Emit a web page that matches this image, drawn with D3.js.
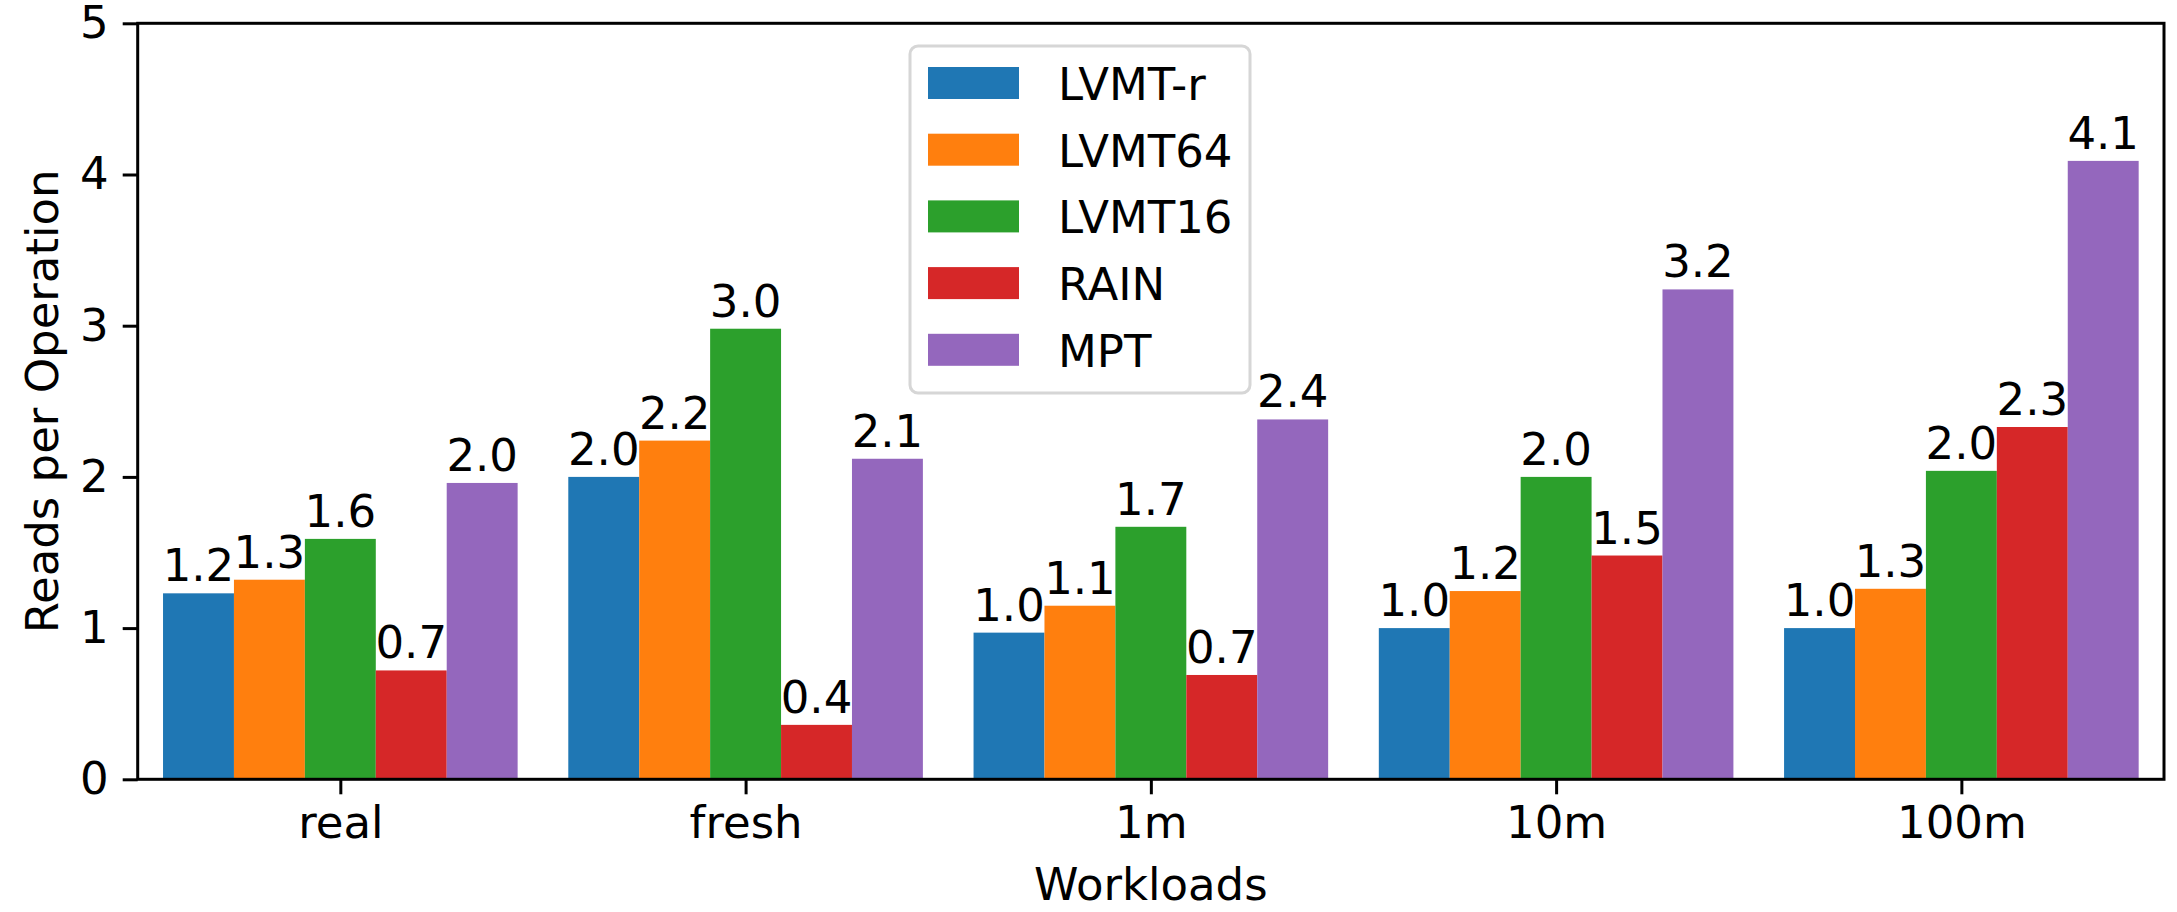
<!DOCTYPE html>
<html>
<head>
<meta charset="utf-8">
<script src="https://cdn.jsdelivr.net/npm/d3@7"></script>
<style>
  html, body { margin: 0; padding: 0; background: #fff; }
  svg { display: block; font-family: "DejaVu Sans", sans-serif; }
</style>
</head>
<body>
<svg width="2177" height="912"></svg>
<script>
// workloads on the x axis
var workloads = ["real", "fresh", "1m", "10m", "100m"];

// one array per series
var seriesNames = ["LVMT-r", "LVMT64", "LVMT16", "RAIN", "MPT"];
var lvmtR  = [1.23, 2.00, 0.97, 1.00, 1.00];
var lvmt64 = [1.32, 2.24, 1.148, 1.245, 1.26];
var lvmt16 = [1.59, 2.98, 1.67, 2.00, 2.04];
var rain   = [0.72, 0.36, 0.69, 1.48, 2.33];
var mpt    = [1.96, 2.12, 2.38, 3.24, 4.09];
var seriesValues = [lvmtR, lvmt64, lvmt16, rain, mpt];

var yTicks = [0, 1, 2, 3, 4, 5];
var colors = ["#1f77b4", "#ff7f0e", "#2ca02c", "#d62728", "#9467bd"];

var svg = d3.select("svg");

// plot area (note: "top" is a reserved window property, so prefix everything)
var plotLeft = 137.7, plotRight = 2164, plotTop = 23.3, plotBottom = 779.3;
var barWidth = 0.175;
var fontSize = 45;

// x is a linear scale over the group index, like matplotlib's bar positions
var x = d3.scaleLinear().domain([-0.5, 4.5]).range([plotLeft, plotRight]);
var y = d3.scaleLinear().domain([0, 5]).range([plotBottom, plotTop]);

var fmt = d3.format(".1f");

// bars
seriesValues.forEach(function(vals, j) {
    var g = svg.append("g").attr("class", "series");
    var offset = (j - 2) * barWidth;

    g.selectAll("rect")
        .data(vals)
        .enter().append("rect")
        .attr("x", function(d, i) { return x(i + offset - barWidth / 2); })
        .attr("width", x(barWidth) - x(0))
        .attr("y", function(d) { return y(d); })
        .attr("height", function(d) { return y(0) - y(d); })
        .attr("fill", colors[j]);

    g.selectAll("text")
        .data(vals)
        .enter().append("text")
        .attr("x", function(d, i) { return x(i + offset); })
        .attr("y", function(d) { return y(d) - 12; })
        .attr("text-anchor", "middle")
        .attr("font-size", fontSize)
        .attr("fill", "#000")
        .text(function(d) { return fmt(d); });
});

// y axis
var yAxis = svg.append("g")
    .attr("transform", "translate(" + plotLeft + ",0)")
    .call(d3.axisLeft(y).tickValues(yTicks).tickFormat(d3.format("d")).tickSize(15).tickPadding(14));

// x axis
var xAxis = svg.append("g")
    .attr("transform", "translate(0," + plotBottom + ")")
    .call(d3.axisBottom(x).tickValues(d3.range(workloads.length))
        .tickFormat(function(i) { return workloads[i]; }).tickSize(15).tickPadding(12));

[yAxis, xAxis].forEach(function(ax) {
    ax.select(".domain").remove();
    ax.selectAll(".tick line").attr("stroke", "#000").attr("stroke-width", 3);
    ax.selectAll(".tick text").attr("font-size", fontSize).attr("font-family", "DejaVu Sans").attr("fill", "#000");
});

// frame
svg.append("rect")
    .attr("x", plotLeft)
    .attr("y", plotTop)
    .attr("width", plotRight - plotLeft)
    .attr("height", plotBottom - plotTop)
    .attr("fill", "none")
    .attr("stroke", "#000")
    .attr("stroke-width", 3);

// axis labels
svg.append("text")
    .attr("x", (plotLeft + plotRight) / 2)
    .attr("y", 900)
    .attr("text-anchor", "middle")
    .attr("font-size", fontSize)
    .text("Workloads");

svg.append("text")
    .attr("transform", "translate(" + 58 + "," + ((plotTop + plotBottom) / 2) + ") rotate(-90)")
    .attr("text-anchor", "middle")
    .attr("font-size", fontSize)
    .text("Reads per Operation");

// legend
var legend = svg.append("g").attr("transform", "translate(910,46)");

legend.append("rect")
    .attr("width", 340)
    .attr("height", 347)
    .attr("rx", 8)
    .attr("fill", "#fff")
    .attr("fill-opacity", 0.8)
    .attr("stroke", "#d6d6d6")
    .attr("stroke-width", 3);

var item = legend.selectAll(".item")
    .data(seriesNames)
    .enter().append("g")
    .attr("class", "item")
    .attr("transform", function(d, i) { return "translate(0," + (i * 66.7) + ")"; });

item.append("rect")
    .attr("x", 18)
    .attr("y", 21)
    .attr("width", 91)
    .attr("height", 32)
    .attr("fill", function(d, i) { return colors[i]; });

item.append("text")
    .attr("x", 148)
    .attr("y", 54)
    .attr("font-size", fontSize)
    .text(function(d) { return d; });
</script>
</body>
</html>
